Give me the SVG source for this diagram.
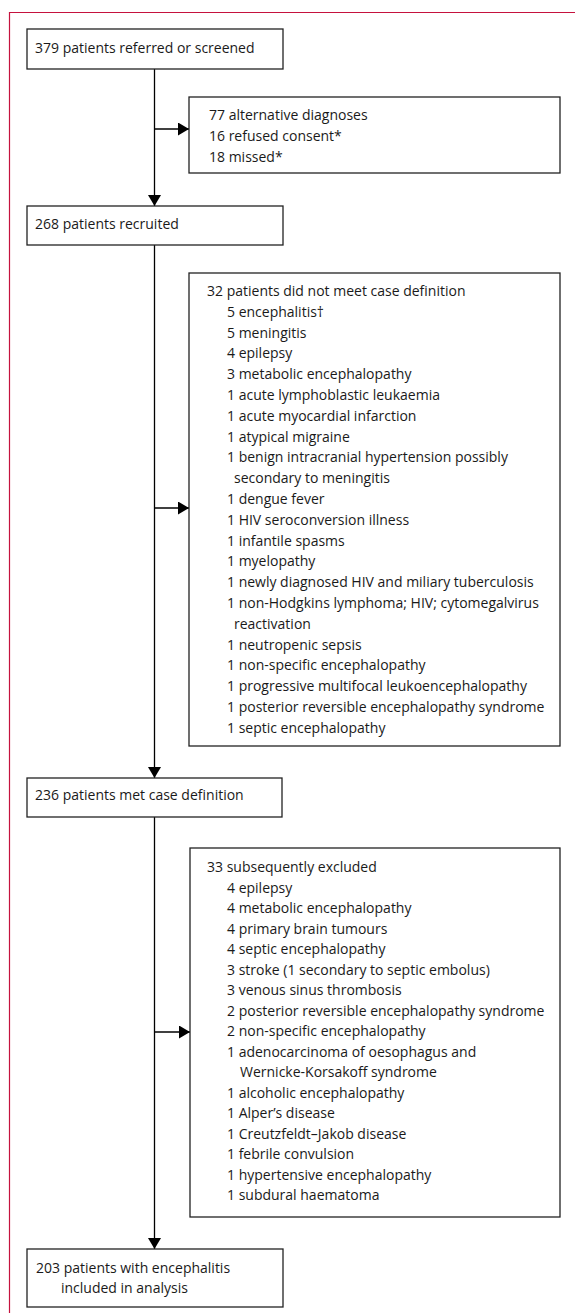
<svg xmlns="http://www.w3.org/2000/svg" width="575" height="1313" viewBox="0 0 575 1313">
<defs>
<marker id="ah" markerUnits="userSpaceOnUse" markerWidth="12" markerHeight="13" refX="11" refY="6.5" orient="auto">
<path d="M0,0 L11,6.5 L0,13 z" fill="#000"/>
</marker>
<style>
.box{fill:#fff;stroke:#222;stroke-width:1.3}
.t{font-family:"Open Sans","Liberation Sans",Arial,sans-serif;font-size:14px;fill:#1a1a1a}
.c{fill:none;stroke:#000;stroke-width:1.3}
</style>
</defs>
<rect width="575" height="1313" fill="#fff"/>
<path d="M9.5,1313 V12.5 H575" fill="none" stroke="#c5123e" stroke-width="1.2"/>
<g id="connectors">
<line class="c" x1="154.5" y1="69" x2="154.5" y2="206" marker-end="url(#ah)"/>
<line class="c" x1="154.5" y1="129" x2="189" y2="129" marker-end="url(#ah)"/>
<line class="c" x1="154.5" y1="245" x2="154.5" y2="778" marker-end="url(#ah)"/>
<line class="c" x1="154.5" y1="508" x2="189" y2="508" marker-end="url(#ah)"/>
<line class="c" x1="154.5" y1="817" x2="154.5" y2="1249" marker-end="url(#ah)"/>
<line class="c" x1="154.5" y1="1032" x2="190" y2="1032" marker-end="url(#ah)"/>
</g>
<g id="n1">
<rect class="box" x="27" y="29" width="256" height="40"/>
<text class="t" x="35" y="53">379 patients referred or screened</text>
</g>
<g id="n2">
<rect class="box" x="189" y="97" width="371" height="76"/>
<text class="t" x="209" y="120">77 alternative diagnoses</text>
<text class="t" x="209" y="141">16 refused consent*</text>
<text class="t" x="209" y="162">18 missed*</text>
</g>
<g id="n3">
<rect class="box" x="27" y="206" width="256" height="39"/>
<text class="t" x="35" y="229">268 patients recruited</text>
</g>
<g id="n4">
<rect class="box" x="189" y="273" width="371" height="473"/>
<text class="t" x="207" y="296">32 patients did not meet case definition</text>
<text class="t" x="227" y="316.8">5 encephalitis†</text>
<text class="t" x="227" y="337.6">5 meningitis</text>
<text class="t" x="227" y="358.4">4 epilepsy</text>
<text class="t" x="227" y="379.2">3 metabolic encephalopathy</text>
<text class="t" x="227" y="400">1 acute lymphoblastic leukaemia</text>
<text class="t" x="227" y="420.8">1 acute myocardial infarction</text>
<text class="t" x="227" y="441.6">1 atypical migraine</text>
<text class="t" x="227" y="462.4">1 benign intracranial hypertension possibly</text>
<text class="t" x="234" y="483.2">secondary to meningitis</text>
<text class="t" x="227" y="504">1 dengue fever</text>
<text class="t" x="227" y="524.8">1 HIV seroconversion illness</text>
<text class="t" x="227" y="545.6">1 infantile spasms</text>
<text class="t" x="227" y="566.4">1 myelopathy</text>
<text class="t" x="227" y="587.2">1 newly diagnosed HIV and miliary tuberculosis</text>
<text class="t" x="227" y="608">1 non-Hodgkins lymphoma; HIV; cytomegalvirus</text>
<text class="t" x="234" y="628.8">reactivation</text>
<text class="t" x="227" y="649.6">1 neutropenic sepsis</text>
<text class="t" x="227" y="670.4">1 non-specific encephalopathy</text>
<text class="t" x="227" y="691.2">1 progressive multifocal leukoencephalopathy</text>
<text class="t" x="227" y="712">1 posterior reversible encephalopathy syndrome</text>
<text class="t" x="227" y="732.8">1 septic encephalopathy</text>
</g>
<g id="n5">
<rect class="box" x="27" y="778" width="255" height="39"/>
<text class="t" x="35" y="800">236 patients met case definition</text>
</g>
<g id="n6">
<rect class="box" x="190" y="848" width="370" height="369"/>
<text class="t" x="207" y="872">33 subsequently excluded</text>
<text class="t" x="227" y="892.5">4 epilepsy</text>
<text class="t" x="227" y="913">4 metabolic encephalopathy</text>
<text class="t" x="227" y="933.5">4 primary brain tumours</text>
<text class="t" x="227" y="954">4 septic encephalopathy</text>
<text class="t" x="227" y="974.5">3 stroke (1 secondary to septic embolus)</text>
<text class="t" x="227" y="995">3 venous sinus thrombosis</text>
<text class="t" x="227" y="1015.5">2 posterior reversible encephalopathy syndrome</text>
<text class="t" x="227" y="1036">2 non-specific encephalopathy</text>
<text class="t" x="227" y="1056.5">1 adenocarcinoma of oesophagus and</text>
<text class="t" x="240" y="1077">Wernicke-Korsakoff syndrome</text>
<text class="t" x="227" y="1097.5">1 alcoholic encephalopathy</text>
<text class="t" x="227" y="1118">1 Alper’s disease</text>
<text class="t" x="227" y="1138.5">1 Creutzfeldt–Jakob disease</text>
<text class="t" x="227" y="1159">1 febrile convulsion</text>
<text class="t" x="227" y="1179.5">1 hypertensive encephalopathy</text>
<text class="t" x="227" y="1200">1 subdural haematoma</text>
</g>
<g id="n7">
<rect class="box" x="27" y="1249" width="256" height="58"/>
<text class="t" x="36" y="1273">203 patients with encephalitis</text>
<text class="t" x="61" y="1293">included in analysis</text>
</g>
</svg>
